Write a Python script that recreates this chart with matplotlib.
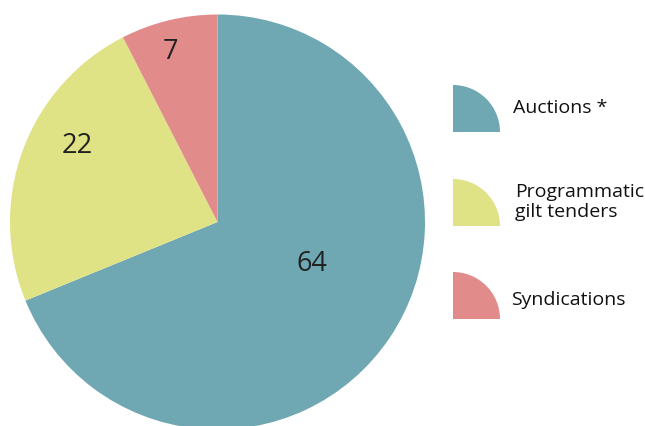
import numpy as np
import matplotlib
matplotlib.use("Agg")
import matplotlib.pyplot as plt
from matplotlib.patches import Wedge

plt.rcParams['font.family'] = ['Open Sans', 'DejaVu Sans']

# Gilt issuance by method
categories = ["Auctions *", "Programmatic\ngilt tenders", "Syndications"]
values = [64, 22, 7]
colors = ["#6FA8B2", "#E0E286", "#E18B8A"]

W, H = 645, 426
fig = plt.figure(figsize=(W / 100, H / 100), dpi=100)

# Pie axes: 415 px square, centred at (217.5, 222) from the top-left
cx, cy, r = 217.5, 222.0, 207.5
ax = fig.add_axes([(cx - r) / W, (H - cy - r) / H, 2 * r / W, 2 * r / H])
wedges, _ = ax.pie(values, colors=colors, startangle=90, counterclock=False,
                   radius=1.0, wedgeprops=dict(linewidth=0))
ax.set_xlim(-1, 1)
ax.set_ylim(-1, 1)
ax.set_aspect("equal")
ax.axis("off")

# Value labels, placed along each wedge
label_radius = [0.50, 0.77, 0.85]
label_shift = [10, -8, 2]  # degrees
for w, v, lr, sh in zip(wedges, values, label_radius, label_shift):
    ang = np.deg2rad((w.theta1 + w.theta2) / 2 + sh)
    ax.text(lr * np.cos(ang), lr * np.sin(ang), str(v), ha="center", va="center",
            fontsize=19.5, color="#222222")

# Legend with quarter-circle swatches, in pixel coordinates
lax = fig.add_axes([0, 0, 1, 1])
lax.set_xlim(0, W)
lax.set_ylim(0, H)
lax.axis("off")
swatch_bottoms = [132, 226, 319]
text_x = [513, 515, 511]
text_y = [108, 202, 300]
for col, lab, sb, tx, ty in zip(colors, categories, swatch_bottoms, text_x, text_y):
    lax.add_patch(Wedge((453, H - sb), 47, 0, 90, facecolor=col, linewidth=0))
    lax.text(tx, H - ty, lab, ha="left", va="center", fontsize=14,
             color="#111111", linespacing=1.15)

fig.savefig("out.png", dpi=100)
